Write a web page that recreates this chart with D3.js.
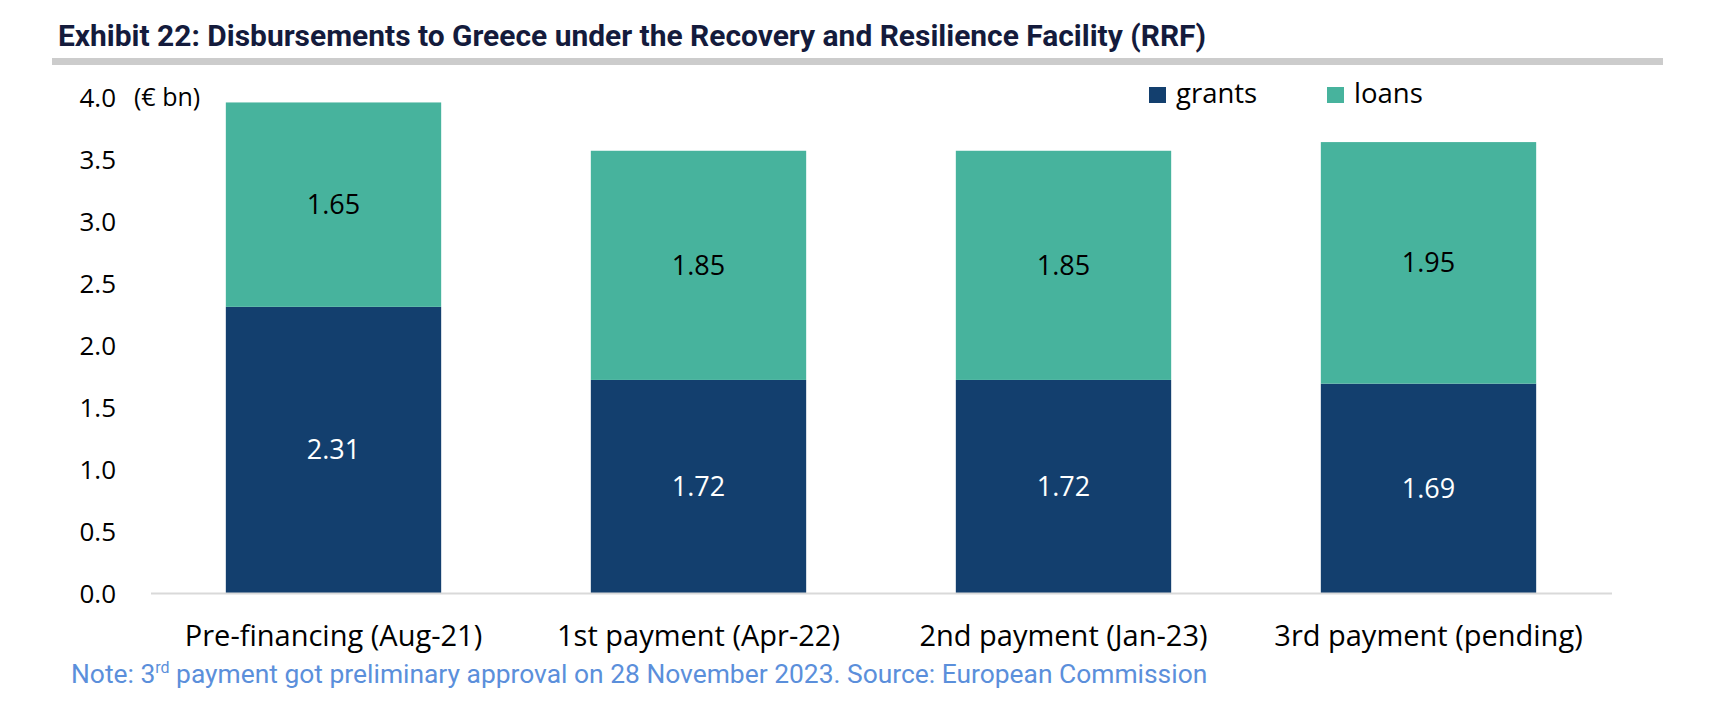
<!DOCTYPE html>
<html>
<head>
<meta charset="utf-8">
<script src="https://cdn.jsdelivr.net/npm/d3@7"></script>
<style>
  html, body { margin: 0; padding: 0; background: #fff; }
  svg { display: block; }
</style>
</head>
<body>
<svg id="chart" width="1719" height="703"></svg>
<script>
const categories = ["Pre-financing (Aug-21)", "1st payment (Apr-22)", "2nd payment (Jan-23)", "3rd payment (pending)"];
const grants = [2.31, 1.72, 1.72, 1.69];
const loans = [1.65, 1.85, 1.85, 1.95];
const seriesNames = ["grants", "loans"];
const yTicks = [0, 0.5, 1.0, 1.5, 2.0, 2.5, 3.0, 3.5, 4.0];
const titleText = "Exhibit 22: Disbursements to Greece under the Recovery and Resilience Facility (RRF)";
const unitText = "(€ bn)";

const colors = { grants: "#133F6E", loans: "#47B39D" };
const tickFont = "'Open Sans', 'Noto Sans', sans-serif";

const svg = d3.select("#chart");

// Title
svg.append("text")
  .attr("x", 58).attr("y", 46)
  .attr("font-family", "Roboto, sans-serif")
  .attr("font-weight", 700)
  .attr("font-size", 29)
  .attr("fill", "#141B3C")
  .attr("textLength", 1148)
  .attr("lengthAdjust", "spacingAndGlyphs")
  .text(titleText);

svg.append("rect")
  .attr("x", 52).attr("y", 58).attr("width", 1611).attr("height", 7)
  .attr("fill", "#CCCCCC");

// Scales
const x = d3.scaleBand().domain(categories).range([151, 1611])
  .paddingInner(0.41).paddingOuter(0.205);
const y = d3.scaleLinear().domain([0, 4]).range([593, 97.5]);

const data = categories.map((c, i) => ({ cat: c, grants: grants[i], loans: loans[i] }));
const stack = d3.stack().keys(seriesNames)(data);

// Y axis labels
const yAxis = d3.axisLeft(y).tickValues(yTicks).tickFormat(d3.format(".1f")).tickSize(0).tickPadding(0);
const yg = svg.append("g").attr("transform", "translate(116,0)").call(yAxis);
yg.select(".domain").remove();
yg.selectAll("text")
  .attr("font-family", tickFont).attr("font-size", 26).attr("fill", "#000")
  .attr("dy", "0.35em");

svg.append("text")
  .attr("x", 134).attr("y", y(4)).attr("dy", "0.35em")
  .attr("font-family", tickFont).attr("font-size", 25).attr("fill", "#000")
  .text(unitText);

// Bars
const layers = svg.append("g").selectAll("g").data(stack).join("g")
  .attr("fill", d => colors[d.key]);
layers.selectAll("rect").data(d => d).join("rect")
  .attr("x", d => x(d.data.cat))
  .attr("y", d => y(d[1]))
  .attr("width", x.bandwidth())
  .attr("height", d => y(d[0]) - y(d[1]));

// X axis line
svg.append("line")
  .attr("x1", 151).attr("x2", 1612).attr("y1", 593.5).attr("y2", 593.5)
  .attr("stroke", "#D9D9D9").attr("stroke-width", 2);

// Value labels
svg.append("g").selectAll("g").data(stack).join("g")
  .each(function(layer) {
    d3.select(this).selectAll("text").data(layer).join("text")
      .attr("x", d => x(d.data.cat) + x.bandwidth() / 2)
      .attr("y", d => (y(d[0]) + y(d[1])) / 2)
      .attr("dy", "0.35em")
      .attr("text-anchor", "middle")
      .attr("font-family", tickFont).attr("font-size", 27)
      .attr("fill", layer.key === "grants" ? "#FFFFFF" : "#000000")
      .text(d => d3.format(".2f")(d.data[layer.key]));
  });

// X axis category labels
const xAxis = d3.axisBottom(x).tickSize(0).tickPadding(0);
const xg = svg.append("g").attr("transform", "translate(0,646)").call(xAxis);
xg.select(".domain").remove();
xg.selectAll("text")
  .attr("font-family", tickFont).attr("font-size", 29).attr("fill", "#000")
  .attr("dy", 0).attr("y", 0);

// Legend
const legendPos = { grants: 1149, loans: 1327 };
const lg = svg.append("g").selectAll("g").data(seriesNames).join("g")
  .attr("transform", d => `translate(${legendPos[d]},87)`);
lg.append("rect").attr("width", 17).attr("height", 16).attr("fill", d => colors[d]);
lg.append("text").attr("x", 27).attr("y", 16)
  .attr("font-family", tickFont).attr("font-size", 27.5).attr("fill", "#000")
  .text(d => d);

// Note
const note = svg.append("text")
  .attr("x", 71).attr("y", 683)
  .attr("font-family", "Roboto, sans-serif").attr("font-size", 26.4)
  .attr("fill", "#5B8FDB");
note.append("tspan").text("Note: 3");
note.append("tspan").attr("font-size", 16).attr("dy", -10).text("rd");
note.append("tspan").attr("dy", 10).text(" payment got preliminary approval on 28 November 2023. Source: European Commission");
</script>
</body>
</html>
